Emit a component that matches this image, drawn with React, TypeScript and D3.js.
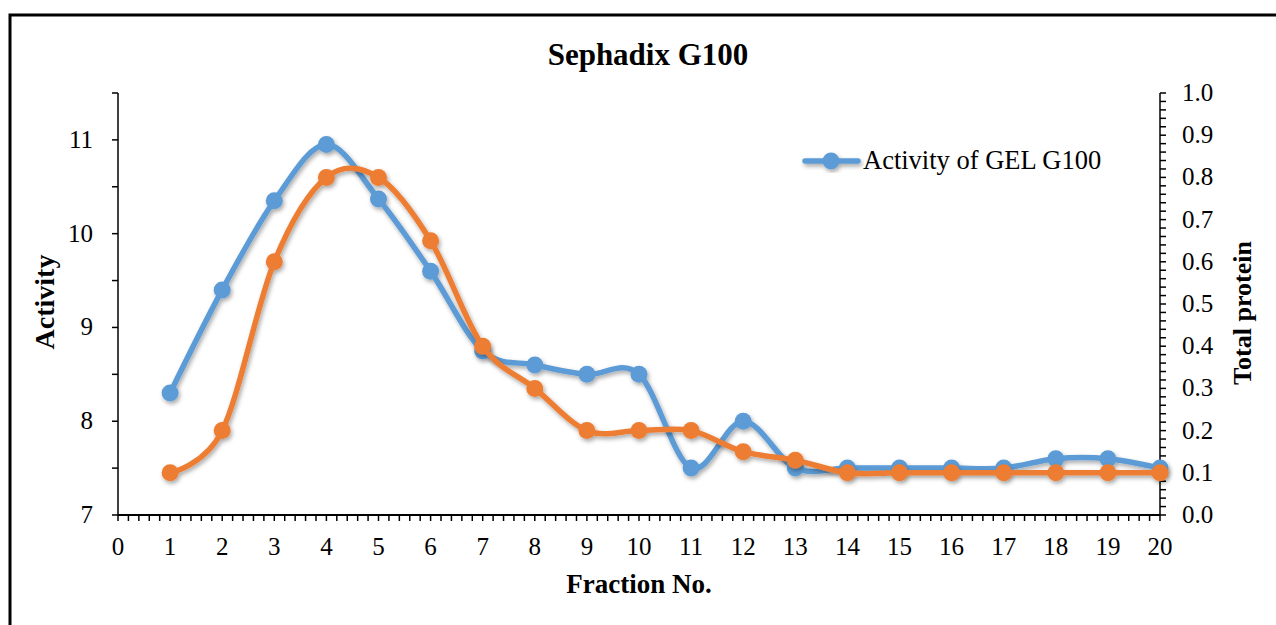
import React from "react";
import * as d3 from "d3";

const fractions = [1,2,3,4,5,6,7,8,9,10,11,12,13,14,15,16,17,18,19,20];
const activity = [8.3,9.4,10.35,10.95,10.37,9.6,8.75,8.6,8.5,8.5,7.5,8.0,7.5,7.5,7.5,7.5,7.5,7.6,7.6,7.5];
const protein = [0.1,0.2,0.6,0.8,0.8,0.65,0.4,0.3,0.2,0.2,0.2,0.15,0.13,0.1,0.1,0.1,0.1,0.1,0.1,0.1];
const xTicks = d3.range(0, 21);
const leftTicks = [7,8,9,10,11];
const rightTicks = [0,0.1,0.2,0.3,0.4,0.5,0.6,0.7,0.8,0.9,1.0];

const W = 1276, H = 625;
const left = 118, right = 1160, top = 93, bottom = 515;
const FONT = "'Liberation Serif', 'Times New Roman', serif";
const BLUE = "#5B9BD5";
const ORANGE = "#ED7D31";

export default function App() {
  const x = d3.scaleLinear().domain([0, 20]).range([left, right]);
  const yL = d3.scaleLinear().domain([7, 11.5]).range([bottom, top]);
  const yR = d3.scaleLinear().domain([0, 1]).range([bottom, top]);

  const lineA = d3.line<number>().x((_, i) => x(fractions[i])).y(d => yL(d)).curve(d3.curveCatmullRom.alpha(0));
  const lineP = d3.line<number>().x((_, i) => x(fractions[i])).y(d => yR(d)).curve(d3.curveCatmullRom.alpha(0));

  const xMinor = d3.range(0, 100.5).map(i => i * 0.2);
  const leftMinor = d3.range(0, 9.5).map(i => 7 + i * 0.5);
  const rightMinor = d3.range(0, 50.5).map(i => i * 0.02);

  return (
    <svg width={W} height={H} style={{ position: "absolute", left: 0, top: 0 }} fontFamily={FONT}>
      <defs>
        <filter id="sh" x="-10%" y="-10%" width="120%" height="130%">
          <feDropShadow dx="1.5" dy="2.5" stdDeviation="2" floodColor="#000" floodOpacity="0.35" />
        </filter>
      </defs>
      <rect x={0} y={0} width={W} height={H} fill="#fff" />
      <rect x={10} y={15} width={W + 20} height={H + 20} fill="none" stroke="#000" strokeWidth={3} />
      <text x={648} y={65} textAnchor="middle" fontSize={31} fontWeight="bold">Sephadix G100</text>

      {/* left axis */}
      <line x1={left} x2={left} y1={top} y2={bottom} stroke="#000" strokeWidth={1.5} />
      {leftMinor.map(v => (
        <line key={"lm" + v} x1={left - 6} x2={left} y1={yL(v)} y2={yL(v)} stroke="#000" strokeWidth={1.5} />
      ))}
      {leftTicks.map(v => (
        <text key={"lt" + v} x={left - 25} y={yL(v) + 8} textAnchor="end" fontSize={25}>{v}</text>
      ))}

      {/* right axis */}
      <line x1={right} x2={right} y1={top} y2={bottom} stroke="#000" strokeWidth={1.5} />
      {rightMinor.map((v, i) => (
        <line key={"rm" + i} x1={right} x2={right + 6} y1={yR(v)} y2={yR(v)} stroke="#000" strokeWidth={1.5} />
      ))}
      {rightTicks.map(v => (
        <text key={"rt" + v} x={right + 22} y={yR(v) + 8} textAnchor="start" fontSize={25}>{v.toFixed(1)}</text>
      ))}

      {/* x axis */}
      <line x1={left} x2={right} y1={bottom} y2={bottom} stroke="#000" strokeWidth={2} />
      {xMinor.map((v, i) => (
        <line key={"xm" + i} x1={x(v)} x2={x(v)} y1={bottom} y2={bottom + 6} stroke="#000" strokeWidth={1.5} />
      ))}
      {xTicks.map(v => (
        <text key={"xt" + v} x={x(v)} y={bottom + 40} textAnchor="middle" fontSize={25}>{v}</text>
      ))}

      <text x={639} y={593} textAnchor="middle" fontSize={27} fontWeight="bold">Fraction No.</text>
      <text transform={`translate(54,${302}) rotate(-90)`} textAnchor="middle" fontSize={28} fontWeight="bold">Activity</text>
      <text transform={`translate(1251,${313}) rotate(-90)`} textAnchor="middle" fontSize={26} fontWeight="bold">Total protein</text>

      {/* series */}
      <g filter="url(#sh)">
        <path d={lineA(activity) || ""} fill="none" stroke={BLUE} strokeWidth={5.5} strokeLinejoin="round" />
        {activity.map((v, i) => (
          <circle key={"a" + i} cx={x(fractions[i])} cy={yL(v)} r={8.5} fill={BLUE} />
        ))}
      </g>
      <g filter="url(#sh)">
        <path d={lineP(protein) || ""} fill="none" stroke={ORANGE} strokeWidth={5.5} strokeLinejoin="round" />
        {protein.map((v, i) => (
          <circle key={"p" + i} cx={x(fractions[i])} cy={yR(v)} r={8.5} fill={ORANGE} />
        ))}
      </g>

      {/* legend */}
      <g filter="url(#sh)">
        <line x1={805} x2={858} y1={161} y2={161} stroke={BLUE} strokeWidth={5.5} strokeLinecap="round" />
        <circle cx={831} cy={161} r={8.5} fill={BLUE} />
      </g>
      <text x={863} y={169} fontSize={26.5}>Activity of GEL G100</text>
    </svg>
  );
}
